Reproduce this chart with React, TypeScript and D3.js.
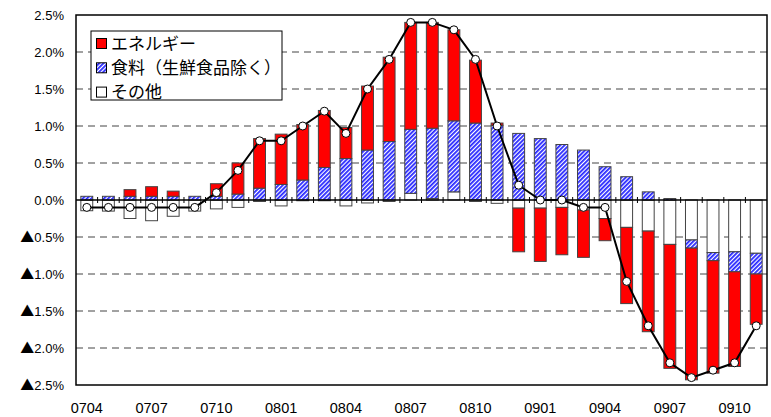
import React, { useMemo } from 'react'
import * as d3 from 'd3'

// months (YYMM)
const months = [
  '0704', '0705', '0706', '0707', '0708', '0709', '0710', '0711', '0712',
  '0801', '0802', '0803', '0804', '0805', '0806', '0807', '0808', '0809', '0810', '0811', '0812',
  '0901', '0902', '0903', '0904', '0905', '0906', '0907', '0908', '0909', '0910', '0911'
]
const energy = [
  0, 0, 0.09, 0.13, 0.07, 0, 0.17, 0.42, 0.67,
  0.68, 0.75, 0.77, 0.42, 0.865, 1.14, 1.445, 1.43, 1.23, 0.85, 0.03, -0.59,
  -0.72, -0.64, -0.64, -0.3, -1.03, -1.36, -1.675, -1.78, -1.52, -1.28, -0.68
]
const food = [
  0.05, 0.05, 0.05, 0.05, 0.05, 0.05, 0.05, 0.08, 0.16,
  0.21, 0.27, 0.44, 0.56, 0.675, 0.79, 0.865, 0.95, 0.96, 1.04, 1.01, 0.9,
  0.83, 0.75, 0.675, 0.45, 0.315, 0.11, 0.02, -0.11, -0.11, -0.27, -0.28
]
const other = [
  -0.145, -0.15, -0.25, -0.28, -0.22, -0.15, -0.12, -0.1, -0.02,
  -0.08, -0.01, -0.01, -0.08, -0.04, -0.02, 0.09, 0.02, 0.11, -0.02, -0.045, -0.11,
  -0.11, -0.1, -0.135, -0.25, -0.37, -0.42, -0.6, -0.54, -0.71, -0.7, -0.72
]
// core CPI, y/y %
const total = [
  -0.1, -0.1, -0.1, -0.1, -0.1, -0.1, 0.1, 0.4, 0.8,
  0.8, 1.0, 1.2, 0.9, 1.5, 1.9, 2.4, 2.4, 2.3, 1.9, 1.0, 0.2,
  0.0, 0.0, -0.1, -0.1, -1.1, -1.7, -2.2, -2.4, -2.3, -2.2, -1.7
]
const yTicks = [2.5, 2.0, 1.5, 1.0, 0.5, 0.0, -0.5, -1.0, -1.5, -2.0, -2.5]
const xLabels = ['0704', '0707', '0710', '0801', '0804', '0807', '0810', '0901', '0904', '0907', '0910']
const legendItems = [
  { key: 'energy', label: 'エネルギー' },
  { key: 'food', label: '食料（生鮮食品除く）' },
  { key: 'other', label: 'その他' }
]

const W = 771, H = 417
const M = { left: 76, right: 4, top: 15, bottom: 32 }
const fill = { energy: '#ff0000', food: 'url(#hatch)', other: '#ffffff' }
const numFont = '"Liberation Sans", Arial, sans-serif'
const jpFont = '"Noto Sans CJK JP", sans-serif'

export default function App() {
  const x = useMemo(() => d3.scaleBand<string>()
    .domain(months)
    .range([M.left, W - M.right])
    .paddingInner(0.45)
    .paddingOuter(0.225), [])
  const y = useMemo(() => d3.scaleLinear().domain([-2.5, 2.5]).range([H - M.bottom, M.top]), [])

  const series = useMemo(() => {
    const rows = months.map((m, i) => ({ month: m, energy: energy[i], food: food[i], other: other[i] }))
    return d3.stack<any>().keys(['other', 'food', 'energy']).offset(d3.stackOffsetDiverging)(rows)
  }, [])

  const line = d3.line<number>()
    .x((_, i) => x(months[i])! + x.bandwidth() / 2)
    .y(d => y(d))

  const step = x.step()
  const y0 = y(0)

  return (
    <svg width={W} height={H} style={{ position: 'absolute', left: 0, top: 0, background: '#fff' }}>
      <defs>
        <pattern id="hatch" width="3" height="3" patternUnits="userSpaceOnUse" patternTransform="rotate(45)">
          <rect width="3" height="3" fill="#ffffff" />
          <rect width="1.8" height="3" fill="#2626ff" />
        </pattern>
      </defs>

      {/* gridlines */}
      {yTicks.filter(t => t !== 0 && Math.abs(t) !== 2.5).map(t => (
        <line key={t} x1={M.left} x2={W - M.right} y1={y(t)} y2={y(t)}
          stroke="#444" strokeWidth={1} strokeDasharray="7,5" />
      ))}

      {/* bars */}
      {series.map(s => (
        <g key={s.key}>
          {s.map((d, i) => {
            const top = y(Math.max(d[0], d[1]))
            const h = Math.abs(y(d[0]) - y(d[1]))
            if (h < 0.3) return null
            return (
              <rect key={i} x={x(months[i])} y={top} width={x.bandwidth()} height={h}
                fill={(fill as any)[s.key]} stroke="#444" strokeWidth={1} />
            )
          })}
        </g>
      ))}

      {/* zero axis with ticks at category boundaries */}
      <line x1={M.left} x2={W - M.right} y1={y0} y2={y0} stroke="#000" strokeWidth={1.5} />
      {months.slice(1).map((m, i) => {
        const xx = M.left + step * (i + 1)
        return <line key={m} x1={xx} x2={xx} y1={y0 - 3} y2={y0 + 3} stroke="#000" strokeWidth={1} />
      })}

      {/* frame */}
      <rect x={M.left} y={M.top} width={W - M.right - M.left} height={H - M.bottom - M.top}
        fill="none" stroke="#000" strokeWidth={1.5} />

      {/* total line */}
      <path d={line(total) || ''} fill="none" stroke="#000" strokeWidth={2} />
      {total.map((v, i) => (
        <circle key={i} cx={x(months[i])! + x.bandwidth() / 2} cy={y(v)} r={4}
          fill="#fff" stroke="#000" strokeWidth={1} />
      ))}

      {/* y labels */}
      {yTicks.map(t => (
        <text key={t} x={M.left - 12} y={y(t)} dy="0.35em" textAnchor="end"
          fontFamily={numFont} fontSize={13} fill="#000">
          {t < 0 && <tspan fontFamily={jpFont} fontSize={14}>▲</tspan>}
          {Math.abs(t).toFixed(1) + '%'}
        </text>
      ))}

      {/* x labels */}
      {xLabels.map(m => (
        <text key={m} x={x(m)! + x.bandwidth() / 2} y={H - 4} textAnchor="middle"
          fontFamily={numFont} fontSize={14.5} fill="#000">{m}</text>
      ))}

      {/* legend */}
      <g>
        <rect x={91} y={31} width={191} height={69} fill="#fff" stroke="#000" strokeWidth={1} />
        {legendItems.map((it, i) => {
          const cy = 43.5 + i * 24.3
          return (
            <g key={it.key}>
              <rect x={96.5} y={cy - 5} width={10} height={10} fill={(fill as any)[it.key]} stroke="#000" strokeWidth={1} />
              <text x={111} y={cy} dy="0.36em" fontFamily={jpFont} fontSize={17} fill="#000">{it.label}</text>
            </g>
          )
        })}
      </g>
    </svg>
  )
}
